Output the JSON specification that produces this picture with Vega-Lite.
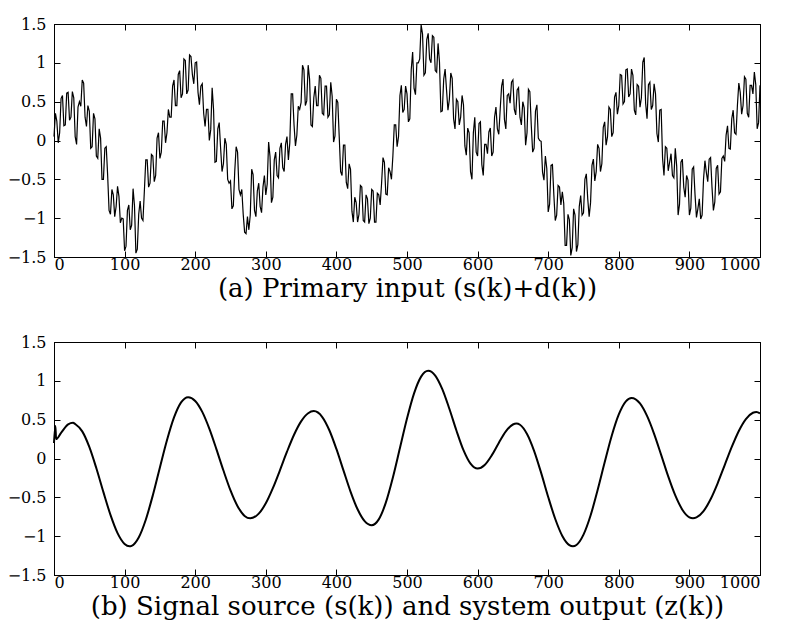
{
  "$schema": "https://vega.github.io/schema/vega-lite/v6.json",
  "padding": {"left": 6, "top": 15, "right": 4, "bottom": 4},
  "background": "white",
  "config": {
    "font": "DejaVu Serif",
    "view": {"stroke": "black", "strokeWidth": 1},
    "concat": {"spacing": 31},
    "axis": {
      "domainColor": "black", "domainWidth": 1,
      "tickColor": "black", "tickSize": -6, "tickWidth": 1,
      "labelColor": "black", "labelFont": "DejaVu Serif", "labelFontSize": 16,
      "labelPadding": 14, "grid": false,
      "titleFont": "DejaVu Serif", "titleFontSize": 26, "titleFontWeight": "normal", "titleColor": "black"
    },
    "axisBottom": {"labelPadding": 5, "titlePadding": 3}
  },
  "datasets": {
    "top": [
      {"k":0,"v":0.05},{"k":4,"v":0.25},{"k":8,"v":0.10},{"k":12,"v":0.58},{"k":16,"v":0.20},{"k":20,"v":0.62},{"k":24,"v":0.30},{"k":28,"v":0.55},{"k":32,"v":-0.05},{"k":36,"v":0.50},{"k":40,"v":0.78},{"k":44,"v":0.30},{"k":48,"v":0.45},{"k":52,"v":-0.10},{"k":56,"v":0.35},{"k":60,"v":-0.20},{"k":64,"v":0.15},{"k":68,"v":-0.50},{"k":72,"v":-0.10},{"k":76,"v":-0.45},{"k":80,"v":-0.95},{"k":84,"v":-0.70},{"k":88,"v":-0.85},{"k":92,"v":-0.72},{"k":96,"v":-1.00},{"k":100,"v":-1.42},{"k":104,"v":-0.90},{"k":108,"v":-1.15},{"k":112,"v":-0.62},{"k":116,"v":-1.45},{"k":120,"v":-0.95},{"k":124,"v":-1.00},{"k":128,"v":-0.65},{"k":132,"v":-0.25},{"k":136,"v":-0.55},{"k":140,"v":-0.20},{"k":144,"v":-0.45},{"k":148,"v":0.10},{"k":152,"v":-0.15},{"k":156,"v":0.25},{"k":160,"v":0.10},{"k":164,"v":0.30},{"k":168,"v":0.70},{"k":172,"v":0.45},{"k":176,"v":0.85},{"k":180,"v":0.55},{"k":184,"v":1.05},{"k":188,"v":0.60},{"k":192,"v":1.10},{"k":196,"v":0.85},{"k":200,"v":1.00},{"k":204,"v":0.62},{"k":208,"v":0.70},{"k":212,"v":0.35},{"k":216,"v":0.40},{"k":220,"v":0.00},{"k":224,"v":0.68},{"k":228,"v":-0.28},{"k":232,"v":0.15},{"k":236,"v":-0.10},{"k":240,"v":-0.30},{"k":244,"v":-0.05},{"k":248,"v":-0.55},{"k":252,"v":-0.88},{"k":256,"v":-0.40},{"k":260,"v":-0.15},{"k":264,"v":-0.70},{"k":268,"v":-0.95},{"k":272,"v":-1.20},{"k":276,"v":-1.15},{"k":280,"v":-0.37},{"k":284,"v":-0.90},{"k":288,"v":-0.65},{"k":292,"v":-0.85},{"k":296,"v":-0.60},{"k":300,"v":-0.70},{"k":304,"v":-0.02},{"k":308,"v":-0.80},{"k":312,"v":-0.25},{"k":316,"v":-0.45},{"k":320,"v":-0.10},{"k":324,"v":-0.35},{"k":328,"v":-0.05},{"k":332,"v":-0.25},{"k":336,"v":0.60},{"k":340,"v":0.20},{"k":344,"v":0.07},{"k":348,"v":0.40},{"k":352,"v":0.97},{"k":356,"v":0.45},{"k":360,"v":0.97},{"k":364,"v":0.20},{"k":368,"v":0.55},{"k":372,"v":0.45},{"k":376,"v":0.84},{"k":380,"v":0.35},{"k":384,"v":0.70},{"k":388,"v":0.30},{"k":392,"v":0.75},{"k":396,"v":-0.02},{"k":400,"v":0.53},{"k":404,"v":0.05},{"k":408,"v":-0.45},{"k":412,"v":-0.06},{"k":416,"v":-0.62},{"k":420,"v":-0.37},{"k":424,"v":-1.05},{"k":428,"v":-0.80},{"k":432,"v":-0.95},{"k":436,"v":-0.60},{"k":440,"v":-1.05},{"k":444,"v":-0.75},{"k":448,"v":-1.00},{"k":452,"v":-0.65},{"k":456,"v":-1.05},{"k":460,"v":-0.70},{"k":464,"v":-0.55},{"k":468,"v":-0.28},{"k":472,"v":-0.70},{"k":476,"v":-0.40},{"k":480,"v":-0.20},{"k":484,"v":0.20},{"k":488,"v":0.05},{"k":492,"v":0.71},{"k":496,"v":0.40},{"k":500,"v":0.60},{"k":504,"v":0.28},{"k":508,"v":1.14},{"k":512,"v":0.59},{"k":516,"v":1.00},{"k":520,"v":1.49},{"k":524,"v":0.84},{"k":528,"v":1.30},{"k":532,"v":1.05},{"k":536,"v":1.35},{"k":540,"v":0.90},{"k":544,"v":1.25},{"k":548,"v":0.37},{"k":552,"v":0.79},{"k":556,"v":0.65},{"k":560,"v":0.53},{"k":564,"v":0.80},{"k":568,"v":0.15},{"k":572,"v":0.50},{"k":576,"v":0.30},{"k":580,"v":0.46},{"k":584,"v":-0.19},{"k":588,"v":0.10},{"k":592,"v":-0.50},{"k":596,"v":0.30},{"k":600,"v":-0.20},{"k":604,"v":0.24},{"k":608,"v":-0.45},{"k":612,"v":-0.05},{"k":616,"v":0.11},{"k":620,"v":-0.20},{"k":624,"v":0.30},{"k":628,"v":0.15},{"k":632,"v":0.40},{"k":636,"v":0.79},{"k":640,"v":0.15},{"k":644,"v":0.60},{"k":648,"v":0.75},{"k":652,"v":0.40},{"k":656,"v":0.65},{"k":660,"v":0.30},{"k":664,"v":0.50},{"k":668,"v":-0.06},{"k":672,"v":0.66},{"k":676,"v":0.20},{"k":680,"v":-0.10},{"k":684,"v":0.46},{"k":688,"v":0.00},{"k":692,"v":-0.41},{"k":696,"v":-0.20},{"k":700,"v":-0.92},{"k":704,"v":-0.32},{"k":708,"v":-0.70},{"k":712,"v":-0.96},{"k":716,"v":-0.60},{"k":720,"v":-0.66},{"k":724,"v":-1.35},{"k":728,"v":-0.95},{"k":732,"v":-1.48},{"k":736,"v":-0.88},{"k":740,"v":-1.43},{"k":744,"v":-0.85},{"k":748,"v":-0.96},{"k":752,"v":-0.50},{"k":756,"v":-0.75},{"k":760,"v":-0.80},{"k":764,"v":-0.24},{"k":768,"v":-0.40},{"k":772,"v":-0.10},{"k":776,"v":-0.30},{"k":780,"v":0.24},{"k":784,"v":0.05},{"k":788,"v":0.40},{"k":792,"v":0.10},{"k":796,"v":0.62},{"k":800,"v":0.45},{"k":804,"v":0.84},{"k":808,"v":0.50},{"k":812,"v":0.92},{"k":816,"v":0.60},{"k":820,"v":0.84},{"k":824,"v":0.33},{"k":828,"v":0.70},{"k":832,"v":0.55},{"k":836,"v":1.07},{"k":840,"v":0.28},{"k":844,"v":0.75},{"k":848,"v":0.45},{"k":852,"v":0.60},{"k":856,"v":-0.02},{"k":860,"v":0.40},{"k":864,"v":-0.45},{"k":868,"v":-0.10},{"k":872,"v":-0.28},{"k":876,"v":-0.45},{"k":880,"v":-0.10},{"k":884,"v":-0.96},{"k":888,"v":-0.28},{"k":892,"v":-0.60},{"k":896,"v":-0.45},{"k":900,"v":-0.96},{"k":904,"v":-0.37},{"k":908,"v":-0.70},{"k":912,"v":-0.88},{"k":916,"v":-1.01},{"k":920,"v":-0.50},{"k":924,"v":-0.41},{"k":928,"v":-0.24},{"k":932,"v":-0.60},{"k":936,"v":-0.79},{"k":940,"v":-0.32},{"k":944,"v":-0.66},{"k":948,"v":-0.20},{"k":952,"v":0.07},{"k":956,"v":-0.10},{"k":960,"v":0.28},{"k":964,"v":0.10},{"k":968,"v":0.45},{"k":972,"v":0.62},{"k":976,"v":0.45},{"k":980,"v":0.79},{"k":984,"v":0.30},{"k":988,"v":0.71},{"k":992,"v":0.88},{"k":996,"v":0.15},{"k":1000,"v":0.71},
      {"k":2,"v":0.35},{"k":6,"v":-0.03},{"k":10,"v":0.54},{"k":14,"v":0.19},{"k":18,"v":0.61},{"k":22,"v":0.26},{"k":26,"v":0.63},{"k":30,"v":0.05},{"k":34,"v":0.43},{"k":38,"v":0.44},{"k":42,"v":0.74},{"k":46,"v":0.18},{"k":50,"v":0.38},{"k":54,"v":-0.08},{"k":58,"v":0.28},{"k":62,"v":-0.23},{"k":66,"v":0.03},{"k":70,"v":-0.50},{"k":74,"v":-0.08},{"k":78,"v":-0.90},{"k":82,"v":-0.63},{"k":86,"v":-0.98},{"k":90,"v":-0.59},{"k":94,"v":-1.06},{"k":98,"v":-1.01},{"k":102,"v":-1.36},{"k":106,"v":-0.83},{"k":110,"v":-1.09},{"k":114,"v":-0.84},{"k":118,"v":-1.40},{"k":122,"v":-0.78},{"k":126,"v":-1.03},{"k":130,"v":-0.25},{"k":134,"v":-0.60},{"k":138,"v":-0.18},{"k":142,"v":-0.53},{"k":146,"v":0.03},{"k":150,"v":-0.23},{"k":154,"v":0.25},{"k":158,"v":-0.03},{"k":162,"v":0.40},{"k":166,"v":0.30},{"k":170,"v":0.78},{"k":174,"v":0.45},{"k":178,"v":0.90},{"k":182,"v":0.60},{"k":186,"v":1.03},{"k":190,"v":0.65},{"k":194,"v":1.08},{"k":198,"v":0.73},{"k":202,"v":1.01},{"k":206,"v":0.46},{"k":210,"v":0.73},{"k":214,"v":0.18},{"k":218,"v":0.40},{"k":222,"v":0.14},{"k":226,"v":0.40},{"k":230,"v":-0.27},{"k":234,"v":0.23},{"k":238,"v":-0.40},{"k":242,"v":0.03},{"k":246,"v":-0.50},{"k":250,"v":-0.52},{"k":254,"v":-0.84},{"k":258,"v":-0.08},{"k":262,"v":-0.63},{"k":266,"v":-0.63},{"k":270,"v":-1.18},{"k":274,"v":-0.98},{"k":278,"v":-0.96},{"k":282,"v":-0.44},{"k":286,"v":-0.98},{"k":290,"v":-0.55},{"k":294,"v":-0.93},{"k":298,"v":-0.45},{"k":302,"v":-0.56},{"k":306,"v":-0.21},{"k":310,"v":-0.73},{"k":314,"v":-0.15},{"k":318,"v":-0.48},{"k":322,"v":-0.03},{"k":326,"v":-0.40},{"k":330,"v":0.05},{"k":334,"v":-0.03},{"k":338,"v":0.60},{"k":342,"v":-0.07},{"k":346,"v":0.44},{"k":350,"v":0.49},{"k":354,"v":0.91},{"k":358,"v":0.51},{"k":362,"v":0.79},{"k":366,"v":0.18},{"k":370,"v":0.70},{"k":374,"v":0.45},{"k":378,"v":0.80},{"k":382,"v":0.33},{"k":386,"v":0.70},{"k":390,"v":0.33},{"k":394,"v":0.57},{"k":398,"v":0.06},{"k":402,"v":0.49},{"k":406,"v":-0.40},{"k":410,"v":-0.06},{"k":414,"v":-0.54},{"k":418,"v":-0.30},{"k":422,"v":-0.91},{"k":426,"v":-0.73},{"k":430,"v":-1.05},{"k":434,"v":-0.58},{"k":438,"v":-1.03},{"k":442,"v":-0.70},{"k":446,"v":-1.07},{"k":450,"v":-0.63},{"k":454,"v":-1.05},{"k":458,"v":-0.68},{"k":462,"v":-0.83},{"k":466,"v":-0.22},{"k":470,"v":-0.69},{"k":474,"v":-0.35},{"k":478,"v":-0.50},{"k":482,"v":0.20},{"k":486,"v":-0.08},{"k":490,"v":0.58},{"k":494,"v":0.36},{"k":498,"v":0.70},{"k":502,"v":0.24},{"k":506,"v":0.91},{"k":510,"v":0.67},{"k":514,"v":1.00},{"k":518,"v":1.05},{"k":522,"v":1.37},{"k":526,"v":0.87},{"k":530,"v":1.38},{"k":534,"v":1.00},{"k":538,"v":1.33},{"k":542,"v":0.88},{"k":546,"v":1.01},{"k":550,"v":0.38},{"k":554,"v":0.92},{"k":558,"v":0.39},{"k":562,"v":0.87},{"k":566,"v":0.28},{"k":570,"v":0.53},{"k":574,"v":0.20},{"k":578,"v":0.58},{"k":582,"v":-0.07},{"k":586,"v":0.16},{"k":590,"v":-0.40},{"k":594,"v":0.10},{"k":598,"v":-0.15},{"k":602,"v":0.22},{"k":606,"v":-0.31},{"k":610,"v":-0.05},{"k":614,"v":-0.17},{"k":618,"v":0.16},{"k":622,"v":-0.15},{"k":626,"v":0.43},{"k":630,"v":0.08},{"k":634,"v":0.70},{"k":638,"v":0.27},{"k":642,"v":0.58},{"k":646,"v":0.48},{"k":650,"v":0.78},{"k":654,"v":0.33},{"k":658,"v":0.68},{"k":662,"v":0.20},{"k":666,"v":0.42},{"k":670,"v":0.10},{"k":674,"v":0.63},{"k":678,"v":-0.15},{"k":682,"v":0.38},{"k":686,"v":0.03},{"k":690,"v":-0.01},{"k":694,"v":-0.51},{"k":698,"v":-0.36},{"k":702,"v":-0.82},{"k":706,"v":-0.31},{"k":710,"v":-1.03},{"k":714,"v":-0.58},{"k":718,"v":-0.83},{"k":722,"v":-0.81},{"k":726,"v":-1.35},{"k":730,"v":-1.02},{"k":734,"v":-1.38},{"k":738,"v":-0.96},{"k":742,"v":-1.34},{"k":746,"v":-0.71},{"k":750,"v":-0.93},{"k":754,"v":-0.43},{"k":758,"v":-0.98},{"k":762,"v":-0.32},{"k":766,"v":-0.52},{"k":770,"v":-0.05},{"k":774,"v":-0.40},{"k":778,"v":0.17},{"k":782,"v":-0.06},{"k":786,"v":0.43},{"k":790,"v":0.05},{"k":794,"v":0.56},{"k":798,"v":0.34},{"k":802,"v":0.85},{"k":806,"v":0.47},{"k":810,"v":0.91},{"k":814,"v":0.56},{"k":818,"v":0.92},{"k":822,"v":0.39},{"k":826,"v":0.72},{"k":830,"v":0.43},{"k":834,"v":1.01},{"k":838,"v":0.48},{"k":842,"v":0.72},{"k":846,"v":0.40},{"k":850,"v":0.73},{"k":854,"v":0.09},{"k":858,"v":0.39},{"k":862,"v":-0.23},{"k":866,"v":-0.08},{"k":870,"v":-0.39},{"k":874,"v":-0.17},{"k":878,"v":-0.48},{"k":882,"v":-0.33},{"k":886,"v":-0.82},{"k":890,"v":-0.24},{"k":894,"v":-0.73},{"k":898,"v":-0.51},{"k":902,"v":-0.87},{"k":906,"v":-0.34},{"k":910,"v":-0.99},{"k":914,"v":-0.75},{"k":918,"v":-0.96},{"k":922,"v":-0.26},{"k":926,"v":-0.53},{"k":930,"v":-0.22},{"k":934,"v":-0.90},{"k":938,"v":-0.36},{"k":942,"v":-0.69},{"k":946,"v":-0.23},{"k":950,"v":-0.27},{"k":954,"v":0.19},{"k":958,"v":-0.11},{"k":962,"v":0.39},{"k":966,"v":0.08},{"k":970,"v":0.74},{"k":974,"v":0.34},{"k":978,"v":0.82},{"k":982,"v":0.35},{"k":986,"v":0.71},{"k":990,"v":0.60},{"k":994,"v":0.72},{"k":998,"v":0.23}
    ],
    "bot": [
      {"k":0,"v":0.2},{"k":2,"v":0.42},{"k":3,"v":0.25},{"k":10,"v":0.33},{"k":20,"v":0.44},{"k":27,"v":0.46},{"k":30,"v":0.444},{"k":40,"v":0.349},{"k":50,"v":0.149},{"k":60,"v":-0.126},{"k":70,"v":-0.433},{"k":80,"v":-0.726},{"k":90,"v":-0.961},{"k":100,"v":-1.10},{"k":107,"v":-1.13},{"k":110,"v":-1.124},{"k":120,"v":-1.016},{"k":130,"v":-0.788},{"k":140,"v":-0.473},{"k":150,"v":-0.115},{"k":160,"v":0.235},{"k":170,"v":0.529},{"k":180,"v":0.723},{"k":190,"v":0.79},{"k":200,"v":0.741},{"k":210,"v":0.600},{"k":220,"v":0.384},{"k":230,"v":0.121},{"k":240,"v":-0.155},{"k":250,"v":-0.411},{"k":260,"v":-0.614},{"k":270,"v":-0.739},{"k":278,"v":-0.77},{"k":290,"v":-0.710},{"k":300,"v":-0.577},{"k":310,"v":-0.382},{"k":320,"v":-0.152},{"k":330,"v":0.087},{"k":340,"v":0.306},{"k":350,"v":0.478},{"k":360,"v":0.583},{"k":368,"v":0.61},{"k":380,"v":0.534},{"k":390,"v":0.364},{"k":400,"v":0.123},{"k":410,"v":-0.153},{"k":420,"v":-0.426},{"k":430,"v":-0.654},{"k":440,"v":-0.807},{"k":450,"v":-0.86},{"k":460,"v":-0.784},{"k":470,"v":-0.569},{"k":480,"v":-0.245},{"k":490,"v":0.135},{"k":500,"v":0.515},{"k":510,"v":0.839},{"k":520,"v":1.054},{"k":530,"v":1.13},{"k":540,"v":1.068},{"k":550,"v":0.893},{"k":560,"v":0.640},{"k":570,"v":0.360},{"k":580,"v":0.107},{"k":590,"v":-0.067},{"k":600,"v":-0.13},{"k":610,"v":-0.084},{"k":620,"v":0.040},{"k":630,"v":0.201},{"k":640,"v":0.350},{"k":650,"v":0.438},{"k":655,"v":0.45},{"k":660,"v":0.435},{"k":670,"v":0.316},{"k":680,"v":0.099},{"k":690,"v":-0.185},{"k":700,"v":-0.495},{"k":710,"v":-0.779},{"k":720,"v":-0.997},{"k":730,"v":-1.115},{"k":735,"v":-1.13},{"k":740,"v":-1.113},{"k":750,"v":-0.980},{"k":760,"v":-0.734},{"k":770,"v":-0.406},{"k":780,"v":-0.049},{"k":790,"v":0.293},{"k":800,"v":0.567},{"k":810,"v":0.736},{"k":818,"v":0.78},{"k":830,"v":0.709},{"k":840,"v":0.548},{"k":850,"v":0.318},{"k":860,"v":0.047},{"k":870,"v":-0.231},{"k":880,"v":-0.476},{"k":890,"v":-0.659},{"k":900,"v":-0.758},{"k":905,"v":-0.77},{"k":910,"v":-0.759},{"k":920,"v":-0.678},{"k":930,"v":-0.525},{"k":940,"v":-0.319},{"k":950,"v":-0.085},{"k":960,"v":0.149},{"k":970,"v":0.355},{"k":980,"v":0.508},{"k":990,"v":0.589},{"k":995,"v":0.60},{"k":1000,"v":0.58}
    ]
  },
  "vconcat": [
    {
      "width": 706, "height": 233,
      "data": {"name": "top"},
      "resolve": {"axis": {"x": "independent", "y": "independent"}},
      "layer": [
        {
          "mark": {"type": "line", "color": "black", "strokeWidth": 1.2},
          "encoding": {
            "x": {"field": "k", "type": "quantitative", "scale": {"domain": [0, 1000], "nice": false},
                  "axis": {"orient": "bottom", "values": [0,100,200,300,400,500,600,700,800,900,1000], "format": "d", "title": "(a) Primary input (s(k)+d(k))"}},
            "y": {"field": "v", "type": "quantitative", "scale": {"domain": [-1.5, 1.5], "nice": false},
                  "axis": {"orient": "left", "values": [-1.5,-1,-0.5,0,0.5,1,1.5], "format": "~g", "title": null}}
          }
        },
        {
          "mark": {"type": "line", "strokeOpacity": 0},
          "encoding": {
            "x": {"field": "k", "type": "quantitative", "scale": {"domain": [0, 1000], "nice": false},
                  "axis": {"orient": "top", "values": [0,100,200,300,400,500,600,700,800,900,1000], "labels": false, "title": null}},
            "y": {"field": "v", "type": "quantitative", "scale": {"domain": [-1.5, 1.5], "nice": false},
                  "axis": {"orient": "right", "values": [-1.5,-1,-0.5,0,0.5,1,1.5], "labels": false, "title": null}}
          }
        }
      ]
    },
    {
      "width": 706, "height": 233,
      "data": {"name": "bot"},
      "resolve": {"axis": {"x": "independent", "y": "independent"}},
      "layer": [
        {
          "mark": {"type": "line", "color": "black", "strokeWidth": 2, "interpolate": "monotone"},
          "encoding": {
            "x": {"field": "k", "type": "quantitative", "scale": {"domain": [0, 1000], "nice": false},
                  "axis": {"orient": "bottom", "values": [0,100,200,300,400,500,600,700,800,900,1000], "format": "d", "title": "(b) Signal source (s(k)) and system output (z(k))"}},
            "y": {"field": "v", "type": "quantitative", "scale": {"domain": [-1.5, 1.5], "nice": false},
                  "axis": {"orient": "left", "values": [-1.5,-1,-0.5,0,0.5,1,1.5], "format": "~g", "title": null}}
          }
        },
        {
          "mark": {"type": "line", "strokeOpacity": 0},
          "encoding": {
            "x": {"field": "k", "type": "quantitative", "scale": {"domain": [0, 1000], "nice": false},
                  "axis": {"orient": "top", "values": [0,100,200,300,400,500,600,700,800,900,1000], "labels": false, "title": null}},
            "y": {"field": "v", "type": "quantitative", "scale": {"domain": [-1.5, 1.5], "nice": false},
                  "axis": {"orient": "right", "values": [-1.5,-1,-0.5,0,0.5,1,1.5], "labels": false, "title": null}}
          }
        }
      ]
    }
  ]
}
